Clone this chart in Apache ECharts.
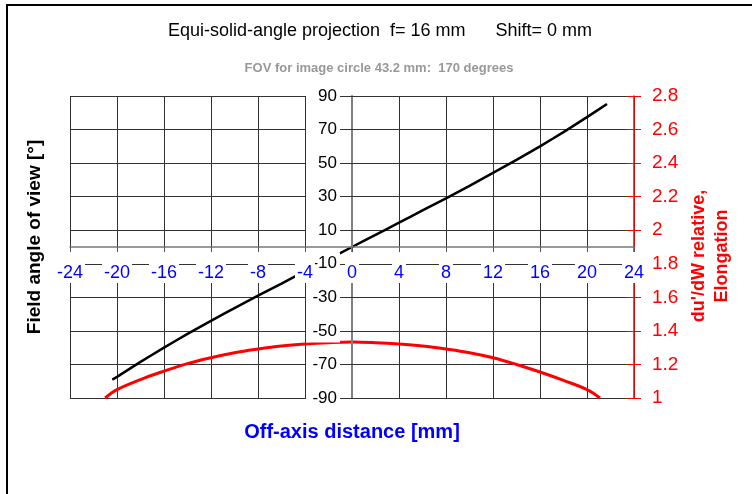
<!DOCTYPE html>
<html><head><meta charset="utf-8">
<script src="https://cdn.jsdelivr.net/npm/echarts@6/dist/echarts.min.js"></script>
<style>html,body{margin:0;padding:0;background:#fff}#c{width:752px;height:494px}</style>
</head><body><div id="c"></div>
<script>
// ---- data ----
const angleX = [-20.4, -20, -18, -16, -14, -12, -10, -8, -6, -4, -2, 0, 2, 4, 6, 8, 10, 12, 14, 16, 18, 20, 21.7];
const angleY = [-79, -77.4, -68.5, -60, -51.8, -44, -36.4, -29, -21.8, -14.4, -7.2, 0, 7.2, 14.5, 21.8, 29, 36.4, 44.2, 51.9, 60, 68.5, 77.4, 85.2];
const elongX = [-21, -20, -18, -16, -14, -12, -10, -8, -6, -4, -2, 0, 2, 4, 6, 8, 10, 12, 14, 16, 18, 20, 21.1];
const elongY = [1.0, 1.05, 1.11, 1.16, 1.205, 1.24, 1.27, 1.292, 1.31, 1.322, 1.33, 1.334, 1.33, 1.322, 1.31, 1.292, 1.27, 1.24, 1.2, 1.155, 1.105, 1.05, 1.0];
const xRange = [-24, 24, 4];
const leftRange = [-90, 90, 20];
const rightRange = [1, 2.8, 0.2];
const titleText = 'Equi-solid-angle projection  f= 16 mm      Shift= 0 mm';
const subtitleText = 'FOV for image circle 43.2 mm:  170 degrees';
const xTitle = 'Off-axis distance [mm]';
const leftTitle = 'Field angle of view [°]';
const rightTitle = "du'/dW relative,\nElongation";

const FF = 'Liberation Sans, Arial, sans-serif';
const chart = echarts.init(document.getElementById('c'));
const angleData = angleX.map((x, i) => [x, angleY[i]]);
const elongData = elongX.map((x, i) => [x, elongY[i]]);
const hidden = {axisLine:{show:false, onZero:false}, axisTick:{show:false}, axisLabel:{show:false}, splitLine:{show:false}};

chart.setOption({
  animation: false,
  backgroundColor: '#fff',
  grid: {left: 70, right: 118, top: 96, bottom: 96, containLabel: false},
  xAxis: [
    Object.assign({}, hidden, {type:'value', min:xRange[0], max:xRange[1], interval:xRange[2], position:'bottom',
      splitLine:{show:true, lineStyle:{color:'#333', width:1}}}),
    {type:'value', min:xRange[0], max:xRange[1], interval:xRange[2], position:'bottom', offset:-151, z:11,
      axisLine:{show:true, onZero:false, lineStyle:{color:'#777', width:1.5}},
      axisTick:{show:true, length:5, lineStyle:{color:'#555'}},
      axisLabel:{show:true, color:'#0000ff', fontSize:18, fontFamily:FF, margin:5, backgroundColor:'#fff', padding:[12,2,1,2]},
      splitLine:{show:false}}
  ],
  yAxis: [
    Object.assign({}, hidden, {type:'value', min:leftRange[0], max:leftRange[1], interval:leftRange[2], position:'left',
      splitLine:{show:true, lineStyle:{color:'#333', width:1}}}),
    {type:'value', min:leftRange[0], max:leftRange[1], interval:leftRange[2], position:'left', offset:-282, z:10,
      axisLine:{show:true, onZero:false, lineStyle:{color:'#808080', width:2}},
      axisTick:{show:true, length:6, lineStyle:{color:'#333'}},
      axisLabel:{show:true, color:'#000', fontSize:17, fontFamily:FF, margin:12, backgroundColor:'#fff', padding:[3,3,3,3], width:28, align:'right'},
      splitLine:{show:false}},
    Object.assign({}, hidden, {type:'value', min:leftRange[0], max:leftRange[1], interval:leftRange[2], position:'left', offset:-282, z:10,
      axisTick:{show:true, inside:true, length:6, lineStyle:{color:'#333'}}}),
    {type:'value', min:rightRange[0], max:rightRange[1], interval:rightRange[2], position:'right', z:5,
      axisLine:{show:true, onZero:false, lineStyle:{color:'#ff0000', width:1.5}},
      axisTick:{show:true, length:7, lineStyle:{color:'#ff0000'}},
      axisLabel:{show:true, color:'#ff0000', fontSize:19, fontFamily:FF, margin:18},
      splitLine:{show:false}},
    Object.assign({}, hidden, {type:'value', min:rightRange[0], max:rightRange[1], interval:rightRange[2], position:'right', z:5,
      axisTick:{show:true, inside:true, length:7, lineStyle:{color:'#ff0000'}}})
  ],
  series: [
    {type:'line', name:'angle', xAxisIndex:0, yAxisIndex:0, data:angleData, showSymbol:false, smooth:0.2,
      lineStyle:{color:'#000', width:2.5}, z:2},
    {type:'line', name:'elong', xAxisIndex:0, yAxisIndex:3, data:elongData, showSymbol:false, smooth:0.4,
      lineStyle:{color:'#ff0000', width:3}, z:2}
  ],
  graphic: [
    {type:'rect', shape:{x:7, y:5, width:900, height:700}, style:{fill:'none', stroke:'#000', lineWidth:2}, silent:true},
    {type:'text', x:380, y:31, style:{text:titleText, fontSize:18, fontFamily:FF, fill:'#000', align:'center', verticalAlign:'middle'}},
    {type:'text', x:379, y:68, style:{text:subtitleText, fontSize:13, fontWeight:'bold', fontFamily:FF, fill:'#999', align:'center', verticalAlign:'middle'}},
    {type:'text', x:352, y:432, style:{text:xTitle, fontSize:20, fontWeight:'bold', fontFamily:FF, fill:'#0000ff', align:'center', verticalAlign:'middle'}},
    {type:'text', x:35, y:237, rotation:Math.PI/2, style:{text:leftTitle, fontSize:19, fontWeight:'bold', fontFamily:FF, fill:'#000', align:'center', verticalAlign:'middle'}},
    {type:'text', x:711, y:256, rotation:Math.PI/2, style:{text:rightTitle, fontSize:18, lineHeight:23, fontWeight:'bold', fontFamily:FF, fill:'#ff0000', align:'center', verticalAlign:'middle'}}
  ]
});
</script>
</body></html>
